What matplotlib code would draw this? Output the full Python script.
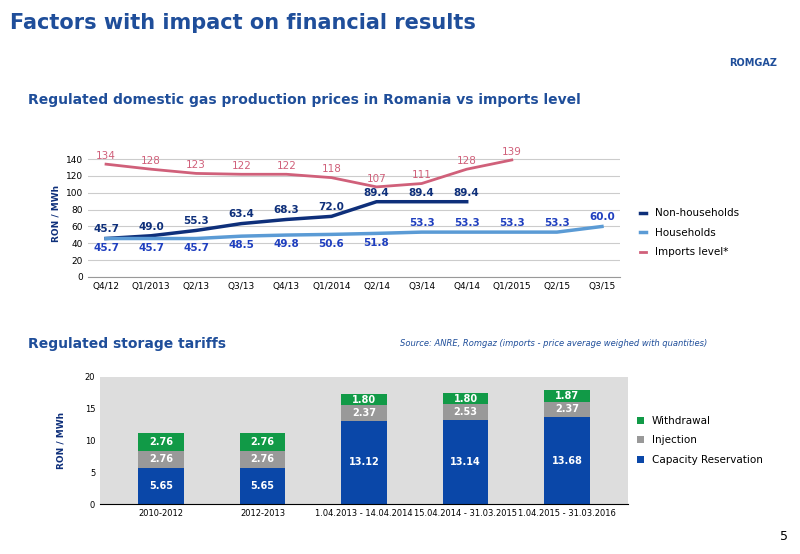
import matplotlib
matplotlib.use("Agg")
import matplotlib.pyplot as plt
import numpy as np

quarters = ["Q4/12","Q1/2013","Q2/13","Q3/13","Q4/13","Q1/2014","Q2/14","Q3/14","Q4/14","Q1/2015","Q2/15","Q3/15"]
non_households = [45.7,49.0,55.3,63.4,68.3,72.0,89.4,89.4,89.4]
households = [45.7,45.7,45.7,48.5,49.8,50.6,51.8,53.3,53.3,53.3,53.3,60.0]
imports = [134,128,123,122,122,118,107,111,128,139]

periods = ["2010-2012","2012-2013","1.04.2013 - 14.04.2014","15.04.2014 - 31.03.2015","1.04.2015 - 31.03.2016"]
capacity = [5.65,5.65,13.12,13.14,13.68]
injection = [2.76,2.76,2.37,2.53,2.37]
withdrawal = [2.76,2.76,1.80,1.80,1.87]

navy = "#0E2F7A"
blue_t = "#1F3FBF"
pink = "#D0607A"
hh = "#5B9BD5"

fig = plt.figure(figsize=(8, 5.54), dpi=100)
fig.text(0.012, 0.958, "Factors with impact on financial results", fontsize=15, fontweight="bold", color="#1F4E9A", va="center")
fig.text(0.942, 0.88, "ROMGAZ", fontsize=7, color="#1F4E9A", ha="center", fontweight="bold")
fig.text(0.035, 0.812, "Regulated domestic gas production prices in Romania vs imports level", fontsize=10, fontweight="bold", color="#1F4E9A")
fig.text(0.035, 0.372, "Regulated storage tariffs", fontsize=10, fontweight="bold", color="#1F4E9A")
fig.text(0.5, 0.375, "Source: ANRE, Romgaz (imports - price average weighed with quantities)", fontsize=6, style="italic", color="#1F4E9A")
fig.text(0.975, 0.025, "5", fontsize=9)

ax = fig.add_axes([0.11, 0.5, 0.665, 0.228])
x = np.arange(len(quarters))
ax.plot(x[:len(non_households)], non_households, color=navy, lw=2.5, label="Non-households")
ax.plot(x, households, color=hh, lw=2.5, label="Households")
ax.plot(x[:len(imports)], imports, color=pink, lw=2, label="Imports level*")
for i, v in enumerate(non_households):
    ax.text(i, v + 5, f"{v:.1f}", ha="center", va="bottom", fontsize=7.5, fontweight="bold", color=navy)
for i, v in enumerate(households):
    if i >= 7:
        ax.text(i, v + 5, f"{v:.1f}", ha="center", va="bottom", fontsize=7.5, fontweight="bold", color=blue_t)
    else:
        ax.text(i, v - 5, f"{v:.1f}", ha="center", va="top", fontsize=7.5, fontweight="bold", color=blue_t)
for i, v in enumerate(imports):
    ax.text(i, v + 4, f"{v:.0f}", ha="center", va="bottom", fontsize=7.5, color=pink)
ax.set_xlim(-0.4, len(quarters) - 0.6)
ax.set_ylim(0, 150)
ax.set_yticks(range(0, 141, 20))
ax.set_xticks(x)
ax.set_xticklabels(quarters)
ax.tick_params(labelsize=6.5, length=0)
ax.grid(axis="y", color="#CCCCCC", lw=0.8)
for s in ["top", "right", "left"]:
    ax.spines[s].set_visible(False)
ax.spines["bottom"].set_color("#999999")
ax.set_ylabel("RON / MWh", fontsize=6.5, fontweight="bold", color=navy)
ax.legend(loc="center left", bbox_to_anchor=(1.02, 0.35), frameon=False, fontsize=7.5, handlelength=0.6, labelspacing=0.9)

ax2 = fig.add_axes([0.125, 0.09, 0.66, 0.23])
xb = np.arange(len(periods))
w = 0.45
ax2.bar(xb, capacity, w, color="#0A47A8", label="Capacity Reservation")
ax2.bar(xb, injection, w, bottom=capacity, color="#999999", label="Injection")
bot3 = [c + i for c, i in zip(capacity, injection)]
ax2.bar(xb, withdrawal, w, bottom=bot3, color="#119A47", label="Withdrawal")
for i in range(len(periods)):
    ax2.text(i, capacity[i] / 2, f"{capacity[i]:.2f}", ha="center", va="center", color="white", fontsize=7, fontweight="bold")
    ax2.text(i, capacity[i] + injection[i] / 2, f"{injection[i]:.2f}", ha="center", va="center", color="white", fontsize=7, fontweight="bold")
    ax2.text(i, bot3[i] + withdrawal[i] / 2, f"{withdrawal[i]:.2f}", ha="center", va="center", color="white", fontsize=7, fontweight="bold")
ax2.set_facecolor("#DDDDDD")
ax2.set_ylim(0, 20)
ax2.set_xlim(-0.6, len(periods) - 0.4)
ax2.set_yticks(range(0, 21, 5))
ax2.set_xticks(xb)
ax2.set_xticklabels(periods)
ax2.tick_params(labelsize=6, length=0)
for s in ["top", "right", "left"]:
    ax2.spines[s].set_visible(False)
ax2.set_ylabel("RON / MWh", fontsize=6.5, fontweight="bold", color=navy, labelpad=14)
h, l = ax2.get_legend_handles_labels()
ax2.legend(h[::-1], l[::-1], loc="center left", bbox_to_anchor=(1.0, 0.5), frameon=False, fontsize=7.5, handlelength=0.6, labelspacing=0.9)

fig.savefig("out.png", dpi=100)
